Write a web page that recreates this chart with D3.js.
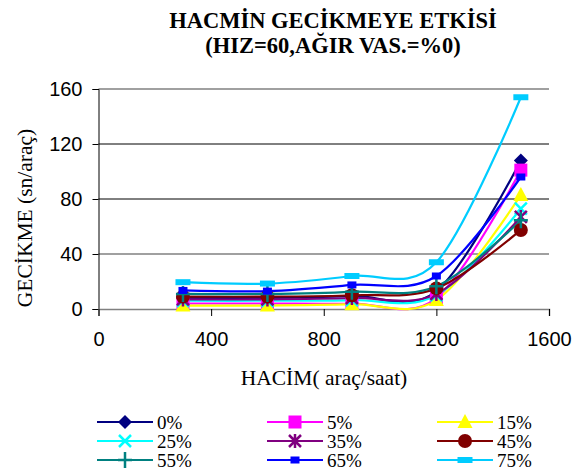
<!DOCTYPE html>
<html>
  <head>
    <meta charset="utf-8" />
    <title>Hacmin Gecikmeye Etkisi</title>
    <script src="https://d3js.org/d3.v7.min.js"></script>
    <style>
      body { margin: 0; background: #fff; }
      .serif { font-family: "Liberation Serif", "DejaVu Serif", serif; }
      .sans { font-family: "Liberation Sans", Arial, sans-serif; }
    </style>
  </head>
  <body>
    <svg id="viz"></svg>
    <script>

      var width = 582;
      var height = 471;

      // data
      var hacim = [300, 600, 900, 1200, 1500];
      var seriesNames = ["0%", "5%", "15%", "25%", "35%", "45%", "55%", "65%", "75%"];
      var s0  = [8, 8, 9.5, 13, 108];
      var s5  = [4, 4, 4, 8, 101];
      var s15 = [2.5, 2.5, 3.5, 6.5, 83];
      var s25 = [6, 6, 6.5, 10, 73];
      var s35 = [7, 7, 8, 11, 67];
      var s45 = [9, 9, 10, 15, 57.5];
      var s55 = [11, 11, 12.5, 16.5, 64.5];
      var s65 = [13.5, 13, 17.5, 24, 96];
      var s75 = [19.5, 18.5, 24, 34, 154];
      var xTicks = [0, 400, 800, 1200, 1600];
      var yTicks = [0, 40, 80, 120, 160];

      var colors = ["#000080", "#ff00ff", "#ffff00", "#00ffff", "#800080", "#800000", "#008080", "#0000ff", "#00ccff"];
      var markers = ["diamond", "square", "triangle", "x", "star", "circle", "plus", "smallrect", "widerect"];
      var allValues = [s0, s5, s15, s25, s35, s45, s55, s65, s75];

      var series = seriesNames.map(function(n, i) {
        return { name: n, color: colors[i], marker: markers[i], values: allValues[i] };
      });

      var svg = d3.select("#viz")
        .attr("width", width)
        .attr("height", height);

      var x = d3.scaleLinear().domain([0, 1600]).range([98.5, 549]);
      var y = d3.scaleLinear().domain([0, 160]).range([309, 89]);

      // gridlines
      svg.append("g").selectAll("line")
        .data(yTicks.filter(function(d) { return d > 0; }))
        .enter().append("line")
        .attr("x1", x(0)).attr("x2", x(1600))
        .attr("y1", function(d) { return y(d); })
        .attr("y2", function(d) { return y(d); })
        .attr("stroke", function(d) { return (d === 40 || d === 160) ? "#808080" : "#000"; })
        .attr("stroke-width", function(d) { return (d === 40 || d === 160) ? 1.5 : 1; });

      // axes
      var yAxis = svg.append("g")
        .attr("transform", "translate(" + x(0) + ",0)")
        .call(d3.axisLeft(y).tickValues(yTicks).tickSize(6).tickPadding(10).tickFormat(d3.format("d")));
      var xAxis = svg.append("g")
        .attr("transform", "translate(0," + y(0) + ")")
        .call(d3.axisBottom(x).tickValues(xTicks).tickSize(7).tickPadding(16).tickFormat(d3.format("d")));

      [yAxis, xAxis].forEach(function(a) {
        a.attr("font-family", null).attr("font-size", null).attr("class", "sans");
        a.select(".domain").attr("stroke", "#000");
        a.selectAll(".tick line").attr("stroke", "#000");
        a.selectAll("text")
          .attr("font-size", "20px")
          .attr("fill", "#000");
      });
      xAxis.select(".domain").attr("stroke", "#808080").attr("stroke-width", 1.5);

      // lines
      var line = d3.line()
        .x(function(d, i) { return x(hacim[i]); })
        .y(function(d) { return y(d); })
        .curve(d3.curveCardinal.tension(0));

      var plot = svg.append("g");
      series.forEach(function(s) {
        plot.append("path")
          .datum(s.values)
          .attr("fill", "none")
          .attr("stroke", s.color)
          .attr("stroke-width", 2.2)
          .attr("d", line);
      });

      function drawMarker(g, type, color, cx, cy) {
        var m = g.append("g").attr("transform", "translate(" + cx + "," + cy + ")");
        if (type === "diamond") {
          m.append("path").attr("d", "M0,-7L7,0L0,7L-7,0Z").attr("fill", color);
        } else if (type === "square") {
          m.append("rect").attr("x", -6.5).attr("y", -6.5).attr("width", 13).attr("height", 13).attr("fill", color);
        } else if (type === "triangle") {
          m.append("path").attr("d", "M0,-8L7.5,6L-7.5,6Z").attr("fill", color);
        } else if (type === "x") {
          m.append("path").attr("d", "M-6,-6L6,6M-6,6L6,-6").attr("stroke", color).attr("stroke-width", 2.5);
        } else if (type === "star") {
          m.append("path").attr("d", "M-6,-6L6,6M-6,6L6,-6M0,-7L0,7").attr("stroke", color).attr("stroke-width", 2.5);
        } else if (type === "circle") {
          m.append("circle").attr("r", 7).attr("fill", color);
        } else if (type === "plus") {
          m.append("path").attr("d", "M-7,0L7,0M0,-8L0,8").attr("stroke", color).attr("stroke-width", 2.5);
        } else if (type === "smallrect") {
          m.append("rect").attr("x", -4.5).attr("y", -3.5).attr("width", 9).attr("height", 7).attr("fill", color);
        } else if (type === "widerect") {
          m.append("rect").attr("x", -7.5).attr("y", -3).attr("width", 15).attr("height", 6).attr("fill", color);
        }
      }

      series.forEach(function(s) {
        s.values.forEach(function(v, i) {
          drawMarker(plot, s.marker, s.color, x(hacim[i]), y(v));
        });
      });

      // title
      var title = svg.append("text")
        .attr("class", "serif")
        .attr("text-anchor", "middle")
        .attr("font-weight", "bold")
        .attr("font-size", "22.5px");
      title.append("tspan").attr("x", 333).attr("y", 28).text("HACMİN GECİKMEYE ETKİSİ");
      title.append("tspan").attr("x", 333).attr("y", 53).text("(HIZ=60,AĞIR VAS.=%0)");

      // axis titles
      svg.append("text")
        .attr("class", "serif")
        .attr("transform", "translate(32,218) rotate(-90)")
        .attr("text-anchor", "middle")
        .attr("font-size", "21.5px")
        .text("GECİKME (sn/araç)");

      svg.append("text")
        .attr("class", "serif")
        .attr("x", 324).attr("y", 385)
        .attr("text-anchor", "middle")
        .attr("font-size", "21.5px")
        .text("HACİM( araç/saat)");

      // legend
      var legendCols = [97, 267, 437];
      var legendRows = [422, 441, 460];
      var legend = svg.append("g");
      series.forEach(function(s, i) {
        var lx = legendCols[i % 3];
        var ly = legendRows[Math.floor(i / 3)];
        legend.append("line")
          .attr("x1", lx).attr("x2", lx + 56)
          .attr("y1", ly).attr("y2", ly)
          .attr("stroke", s.color).attr("stroke-width", 2.2);
        drawMarker(legend, s.marker, s.color, lx + 28, ly);
        legend.append("text")
          .attr("class", "serif")
          .attr("x", lx + 60).attr("y", ly + 6.5)
          .attr("font-size", "19px")
          .text(s.name);
      });

    </script>
  </body>
</html>
